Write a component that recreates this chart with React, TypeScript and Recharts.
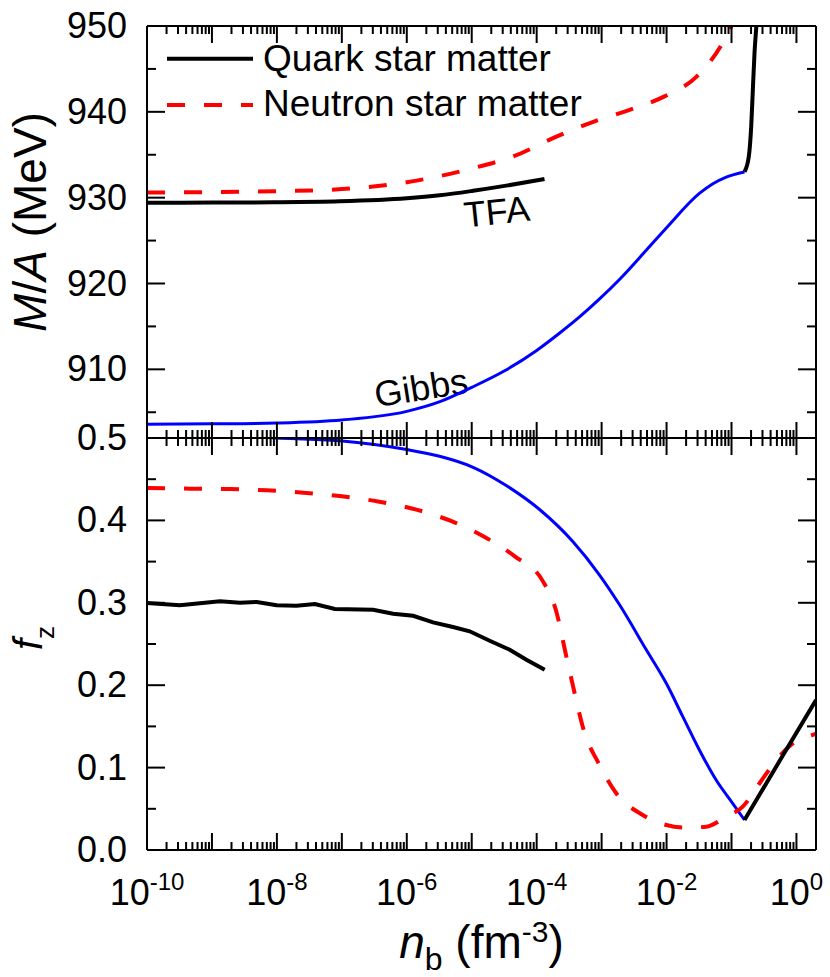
import React from 'react';
import { LineChart, Line, XAxis, YAxis, Legend } from 'recharts';

// ---------------- data ----------------
// Upper panel: M/A (MeV) vs n_b (fm^-3)
const tfaMassNb = [1e-10, 1e-9, 8.7e-9, 9.3e-8, 1.0e-6, 3.2e-6, 1.05e-5, 3.4e-5, 1.32e-4];
const tfaMassMA = [929.41, 929.43, 929.46, 929.57, 929.92, 930.27, 930.8, 931.4, 932.17];

const quarkHighMassNb = [0.1585, 0.1845, 0.201, 0.213, 0.226, 0.24, 0.243];
const quarkHighMassMA = [933.02, 934.77, 938.27, 942.54, 946.82, 949.73, 950.3];

const gibbsMassNb = [1e-10, 1e-9, 1e-8, 1e-7, 1e-6, 3.16e-6, 1e-5, 3.16e-5, 1e-4, 2.24e-4, 4.57e-4, 9.3e-4, 1.9e-3, 4.9e-3, 1e-2, 3.2e-2, 5.1e-2, 8.3e-2, 0.1585];
const gibbsMassMA = [903.6, 903.65, 903.75, 904.1, 905.1, 906.2, 907.9, 909.8, 912.2, 914.2, 916.1, 918.2, 920.5, 923.9, 926.5, 930.5, 931.6, 932.4, 933.0];

const neutronMassNb = [1e-10, 1e-9, 1e-8, 1e-7, 1e-6, 3.16e-6, 1e-5, 4e-5, 2.14e-4, 7.8e-4, 2.63e-3, 9.3e-3, 2.9e-2, 7.4e-2, 0.105];
const neutronMassMA = [930.6, 930.65, 930.75, 931.0, 931.8, 932.5, 933.4, 934.7, 937.2, 938.9, 940.2, 941.8, 944.1, 948.1, 950.3];

// Lower panel: f_z vs n_b (fm^-3)
const tfaFzNb = [1e-10, 3.2e-10, 1.33e-9, 2.7e-9, 4.9e-9, 9.9e-9, 2.0e-8, 3.85e-8, 7.8e-8, 3.03e-7, 6.15e-7, 1.25e-6, 2.54e-6, 5.15e-6, 9.3e-6, 1.89e-5, 3.85e-5, 6.95e-5, 1.33e-4];
const tfaFz = [0.2998, 0.297, 0.3018, 0.3, 0.301, 0.297, 0.2965, 0.2985, 0.2925, 0.2916, 0.2867, 0.2843, 0.2763, 0.2706, 0.2654, 0.254, 0.243, 0.231, 0.2188];

const quarkHighFzNb = [0.1585, 0.61, 2.0];
const quarkHighFz = [0.0364, 0.114, 0.182];

const gibbsFzNb = [1e-10, 1e-9, 1e-8, 9.3e-8, 1e-6, 3.2e-6, 1.05e-5, 3.5e-5, 1.12e-4, 3.6e-4, 9.3e-4, 1.9e-3, 4.9e-3, 9.9e-3, 1.78e-2, 3.2e-2, 5.8e-2, 0.1035, 0.1585];
const gibbsFz = [0.505, 0.503, 0.5, 0.4967, 0.486, 0.4778, 0.4645, 0.4417, 0.4129, 0.3744, 0.3337, 0.2973, 0.2427, 0.2023, 0.1618, 0.1214, 0.085, 0.057, 0.0364];

const neutronFzNb = [1e-10, 4.6e-10, 1.9e-9, 6.95e-9, 2.86e-8, 9.3e-8, 3.6e-7, 1.41e-6, 4.9e-6, 1.58e-5, 4.6e-5, 1.25e-4, 2.0e-4, 2.86e-4, 3.85e-4, 5.15e-4, 9.3e-4, 1.68e-3, 4.3e-3, 9.9e-3, 2.0e-2, 4.1e-2, 8.3e-2, 0.149, 0.27, 0.49, 0.88, 1.78, 2.0];
const neutronFz = [0.4393, 0.4385, 0.438, 0.4365, 0.4333, 0.4296, 0.423, 0.413, 0.399, 0.3799, 0.3564, 0.326, 0.2897, 0.235, 0.19, 0.149, 0.103, 0.0688, 0.0425, 0.0303, 0.0271, 0.0283, 0.0404, 0.0526, 0.081, 0.109, 0.1295, 0.1396, 0.141];

// axes / ticks
const xDomain = [1e-10, 2];
const xDecadeExponents = [-10, -9, -8, -7, -6, -5, -4, -3, -2, -1, 0];
const xMultipliers = [1, 2, 3, 4, 5, 6, 7, 8, 9];
const xLabelExponents = [-10, -8, -6, -4, -2, 0];
const massTicks = [905, 910, 915, 920, 925, 930, 935, 940, 945, 950];
const massLabels = [910, 920, 930, 940, 950];
const fzTicks = [0, 0.05, 0.1, 0.15, 0.2, 0.25, 0.3, 0.35, 0.4, 0.45, 0.5];
const fzLabels = ['0.0', '0.1', '0.2', '0.3', '0.4', '0.5'];

const xTicks: number[] = [];
xDecadeExponents.forEach((e) => xMultipliers.forEach((m) => xTicks.push(m * Math.pow(10, e))));
const xTicksInDomain = xTicks.filter((v) => v >= xDomain[0] * 0.999 && v < xDomain[1]);

const zip = (xs: number[], ys: number[]) => xs.map((x, i) => ({ x, y: ys[i] }));

const FONT = '"Liberation Sans", Arial, Helvetica, sans-serif';
const TICK_FS = 36;
const TITLE_FS = 46;

const isMajorX = (v: number) => {
  const l = Math.log10(v);
  return Math.abs(l - Math.round(l)) < 1e-6;
};
const isMajorMass = (v: number) => massLabels.includes(v);
const isMajorFz = (v: number) => Math.abs(v * 10 - Math.round(v * 10)) < 1e-6 && fzLabels.includes(v.toFixed(1));

// ---------------- tick renderers (inward ticks) ----------------
const XBottomLabeledTick = (props: any) => {
  const { x, y, payload } = props;
  const v = payload.value;
  const major = isMajorX(v);
  const e = Math.round(Math.log10(v));
  const showLabel = major && xLabelExponents.includes(e);
  return (
    <g>
      <line x1={x} y1={y} x2={x} y2={y - (major ? 17 : 8)} stroke="#000" strokeWidth={2} />
      {showLabel && (
        <text x={x} y={y + 55} textAnchor="middle" fontSize={TICK_FS} fontFamily={FONT} fill="#000">
          10
          <tspan fontSize={24} dy={-15}>{String(e)}</tspan>
        </text>
      )}
    </g>
  );
};

const XBottomPlainTick = (props: any) => {
  const { x, y, payload } = props;
  const major = isMajorX(payload.value);
  return <line x1={x} y1={y} x2={x} y2={y - (major ? 16 : 8)} stroke="#000" strokeWidth={2} />;
};

const XTopTick = (props: any) => {
  const { x, y, payload } = props;
  const major = isMajorX(payload.value);
  return <line x1={x} y1={y} x2={x} y2={y + (major ? 17 : 8)} stroke="#000" strokeWidth={2} />;
};

const MassLeftTick = (props: any) => {
  const { x, y, payload } = props;
  const v = payload.value;
  const major = isMajorMass(v);
  return (
    <g>
      <line x1={x} y1={y} x2={x + (major ? 18 : 9)} y2={y} stroke="#000" strokeWidth={2} />
      {major && (
        <text x={x - 20} y={y + 12} textAnchor="end" fontSize={TICK_FS} fontFamily={FONT} fill="#000">
          {v}
        </text>
      )}
    </g>
  );
};

const MassRightTick = (props: any) => {
  const { x, y, payload } = props;
  const major = isMajorMass(payload.value);
  return <line x1={x} y1={y} x2={x - (major ? 18 : 9)} y2={y} stroke="#000" strokeWidth={2} />;
};

const FzLeftTick = (props: any) => {
  const { x, y, payload } = props;
  const v = payload.value;
  const major = isMajorFz(v);
  return (
    <g>
      <line x1={x} y1={y} x2={x + (major ? 18 : 9)} y2={y} stroke="#000" strokeWidth={2} />
      {major && (
        <text x={x - 20} y={y + 12} textAnchor="end" fontSize={TICK_FS} fontFamily={FONT} fill="#000">
          {v.toFixed(1)}
        </text>
      )}
    </g>
  );
};

const FzRightTick = (props: any) => {
  const { x, y, payload } = props;
  const major = isMajorFz(payload.value);
  return <line x1={x} y1={y} x2={x - (major ? 18 : 9)} y2={y} stroke="#000" strokeWidth={2} />;
};

// ---------------- legend ----------------
const legendItems = [
  { name: 'Quark star matter', color: '#000000', dash: undefined as string | undefined },
  { name: 'Neutron star matter', color: '#ff0000', dash: '18 19' },
];

const LegendBox = () => (
  <svg width={460} height={100} style={{ display: 'block', overflow: 'visible' }}>
    {legendItems.map((it, i) => (
      <g key={it.name}>
        <line x1={17} y1={32.7 + i * 46.3} x2={103} y2={32.7 + i * 46.3} stroke={it.color} strokeWidth={4} strokeDasharray={it.dash} />
        <text x={113} y={45 + i * 45} fontSize={37} fontFamily={FONT} fill="#000">
          {it.name}
        </text>
      </g>
    ))}
  </svg>
);

const axisLine = { stroke: '#000', strokeWidth: 2 };

export default function App() {
  return (
    <div style={{ position: 'absolute', left: 0, top: 0, width: 830, height: 977, background: '#fff', fontFamily: FONT }}>
      {/* upper panel */}
      <div style={{ position: 'absolute', left: 0, top: 0 }}>
        <LineChart width={830} height={440} margin={{ top: 16, right: 4, bottom: 0, left: 47 }}>
          <XAxis xAxisId="b" dataKey="x" type="number" scale="log" domain={xDomain} allowDataOverflow ticks={xTicksInDomain} interval={0} tickSize={0} tickMargin={0} height={2} axisLine={axisLine} tickLine={false} tick={XBottomPlainTick} orientation="bottom" />
          <XAxis xAxisId="t" dataKey="x" type="number" scale="log" domain={xDomain} allowDataOverflow ticks={xTicksInDomain} interval={0} tickSize={0} tickMargin={0} height={10} axisLine={axisLine} tickLine={false} tick={XTopTick} orientation="top" />
          <YAxis yAxisId="l" dataKey="y" type="number" domain={[902, 950]} allowDataOverflow ticks={massTicks} interval={0} tickSize={0} tickMargin={0} width={100} axisLine={axisLine} tickLine={false} tick={MassLeftTick} orientation="left" />
          <YAxis yAxisId="r" dataKey="y" type="number" domain={[902, 950]} allowDataOverflow ticks={massTicks} interval={0} tickSize={0} tickMargin={0} width={10} axisLine={axisLine} tickLine={false} tick={MassRightTick} orientation="right" />
          <Line xAxisId="b" yAxisId="l" data={zip(neutronMassNb, neutronMassMA)} dataKey="y" type="monotone" stroke="#ff0000" strokeWidth={4} strokeDasharray="18 19" dot={false} isAnimationActive={false} />
          <Line xAxisId="b" yAxisId="l" data={zip(gibbsMassNb, gibbsMassMA)} dataKey="y" type="monotone" stroke="#0000ff" strokeWidth={3} dot={false} isAnimationActive={false} />
          <Line xAxisId="b" yAxisId="l" data={zip(tfaMassNb, tfaMassMA)} dataKey="y" type="monotone" stroke="#000000" strokeWidth={4} dot={false} isAnimationActive={false} />
          <Line xAxisId="b" yAxisId="l" data={zip(quarkHighMassNb, quarkHighMassMA)} dataKey="y" type="monotone" stroke="#000000" strokeWidth={4} dot={false} isAnimationActive={false} />
          <Legend content={() => <LegendBox />} layout="vertical" align="center" verticalAlign="middle" wrapperStyle={{ top: 26, left: 150, width: 460, height: 100 }} />
          <text transform="rotate(-90, 46, 222)" x={46} y={222} textAnchor="middle" fontSize={TITLE_FS} fontFamily={FONT} fill="#000">
            <tspan fontStyle="italic">M</tspan>/<tspan fontStyle="italic">A</tspan> (MeV)
          </text>
          <text transform="rotate(-6, 498, 224)" x={498} y={224} textAnchor="middle" fontSize={36} fontFamily={FONT} fill="#000">TFA</text>
          <text transform="rotate(-9, 423, 400)" x={423} y={400} textAnchor="middle" fontSize={36} fontFamily={FONT} fill="#000">Gibbs</text>
        </LineChart>
      </div>
      {/* lower panel */}
      <div style={{ position: 'absolute', left: 0, top: 400 }}>
        <LineChart width={830} height={577} margin={{ top: 28, right: 4, bottom: 27, left: 47 }}>
          <XAxis xAxisId="b" dataKey="x" type="number" scale="log" domain={xDomain} allowDataOverflow ticks={xTicksInDomain} interval={0} tickSize={0} tickMargin={0} height={100} axisLine={axisLine} tickLine={false} tick={XBottomLabeledTick} orientation="bottom" />
          <XAxis xAxisId="t" dataKey="x" type="number" scale="log" domain={xDomain} allowDataOverflow ticks={xTicksInDomain} interval={0} tickSize={0} tickMargin={0} height={10} axisLine={axisLine} tickLine={false} tick={XTopTick} orientation="top" />
          <YAxis yAxisId="l" dataKey="y" type="number" domain={[0, 0.5]} allowDataOverflow ticks={fzTicks} interval={0} tickSize={0} tickMargin={0} width={100} axisLine={axisLine} tickLine={false} tick={FzLeftTick} orientation="left" />
          <YAxis yAxisId="r" dataKey="y" type="number" domain={[0, 0.5]} allowDataOverflow ticks={fzTicks} interval={0} tickSize={0} tickMargin={0} width={10} axisLine={axisLine} tickLine={false} tick={FzRightTick} orientation="right" />
          <Line xAxisId="b" yAxisId="l" data={zip(gibbsFzNb, gibbsFz)} dataKey="y" type="monotone" stroke="#0000ff" strokeWidth={3} dot={false} isAnimationActive={false} />
          <Line xAxisId="b" yAxisId="l" data={zip(neutronFzNb, neutronFz)} dataKey="y" type="monotone" stroke="#ff0000" strokeWidth={4} strokeDasharray="18 19" dot={false} isAnimationActive={false} />
          <Line xAxisId="b" yAxisId="l" data={zip(tfaFzNb, tfaFz)} dataKey="y" type="linear" stroke="#000000" strokeWidth={4} dot={false} isAnimationActive={false} />
          <Line xAxisId="b" yAxisId="l" data={zip(quarkHighFzNb, quarkHighFz)} dataKey="y" type="linear" stroke="#000000" strokeWidth={4} dot={false} isAnimationActive={false} />
          <text transform="rotate(-90, 42, 238)" x={42} y={238} textAnchor="middle" fontSize={40} fontFamily={FONT} fill="#000">
            <tspan fontStyle="italic">f</tspan>
            <tspan fontSize={26} dy={12}>z</tspan>
          </text>
          <text x={481.5} y={558} textAnchor="middle" fontSize={TITLE_FS} fontFamily={FONT} fill="#000">
            <tspan fontStyle="italic">n</tspan>
            <tspan fontSize={32} dy={12}>b</tspan>
            <tspan dy={-12}> (fm</tspan>
            <tspan fontSize={30} dy={-16}>-3</tspan>
            <tspan dy={16}>)</tspan>
          </text>
        </LineChart>
      </div>
    </div>
  );
}
